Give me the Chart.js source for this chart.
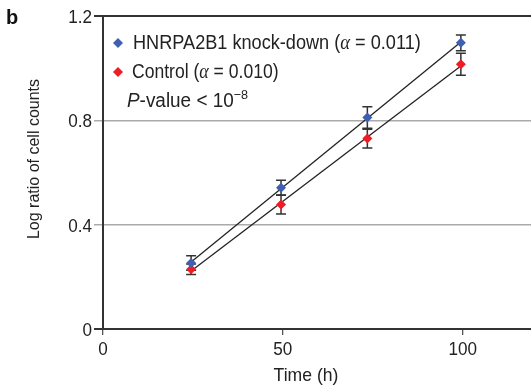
<!DOCTYPE html>
<html>
<head>
<meta charset="utf-8">
<script src="https://cdn.jsdelivr.net/npm/chart.js@4/dist/chart.umd.min.js"></script>
<style>
  html, body { margin: 0; padding: 0; background: #fff; }
  #wrap { width: 531px; height: 385px; }
</style>
</head>
<body>
<div id="wrap"><canvas id="growthChart" width="531" height="385"></canvas></div>
<script>
// Values
const timeHours = [24.5, 49.5, 73.5, 99.5];
const knockDown = [0.253, 0.542, 0.811, 1.097];
const knockDownErr = [0.028, 0.028, 0.041, 0.030];
const control = [0.229, 0.477, 0.730, 1.015];
const controlErr = [0.020, 0.036, 0.036, 0.042];
const xTicks = [0, 50, 100];
const yTicks = [0, 0.4, 0.8, 1.2];

const BLUE = '#3f5fb0';
const RED = '#ee1d25';
const FAMILY = '"Liberation Sans", Arial, sans-serif';
const SERIF = '"Liberation Serif", "DejaVu Serif", serif';
const SQUEEZE = 0.9; // the figure's lettering is a little narrower than Arial

// least squares line through a series, drawn between first and last time point
function fitLine(xs, ys) {
  const n = xs.length;
  const mx = xs.reduce((a, b) => a + b, 0) / n;
  const my = ys.reduce((a, b) => a + b, 0) / n;
  let sxy = 0, sxx = 0;
  xs.forEach((x, i) => { sxy += (x - mx) * (ys[i] - my); sxx += (x - mx) * (x - mx); });
  const slope = sxy / sxx;
  const icpt = my - slope * mx;
  const x0 = xs[0], x1 = xs[n - 1];
  return [{ x: x0, y: icpt + slope * x0 }, { x: x1, y: icpt + slope * x1 }];
}

function points(ys) {
  return timeHours.map((t, i) => ({ x: t, y: ys[i] }));
}

function fmtY(v) {
  return v === 0 ? '0' : v.toFixed(1);
}

// text pieces drawn in a row, narrowed horizontally by sx
function runText(ctx, x, y, parts, sx, align) {
  let total = 0;
  parts.forEach(p => { ctx.font = p.font; total += ctx.measureText(p.text).width * sx; });
  if (align === 'center') x -= total / 2;
  if (align === 'right') x -= total;
  parts.forEach(p => {
    ctx.font = p.font;
    ctx.save();
    ctx.translate(x, y + (p.dy || 0));
    ctx.scale(sx, 1);
    ctx.textAlign = 'left';
    ctx.fillText(p.text, 0, 0);
    ctx.restore();
    x += ctx.measureText(p.text).width * sx;
  });
}

const errorBars = {
  id: 'errorBars',
  beforeDatasetsDraw(chart) {
    const ctx = chart.ctx;
    const xs = chart.scales.x, ys = chart.scales.y;
    ctx.save();
    ctx.strokeStyle = '#333';
    ctx.lineWidth = 1.5;
    [[knockDown, knockDownErr], [control, controlErr]].forEach(([vals, errs]) => {
      vals.forEach((v, i) => {
        const px = xs.getPixelForValue(timeHours[i]);
        const top = ys.getPixelForValue(v + errs[i]);
        const bot = ys.getPixelForValue(v - errs[i]);
        ctx.beginPath();
        ctx.moveTo(px, top); ctx.lineTo(px, bot);
        ctx.moveTo(px - 5, top); ctx.lineTo(px + 5, top);
        ctx.moveTo(px - 5, bot); ctx.lineTo(px + 5, bot);
        ctx.stroke();
      });
    });
    ctx.restore();
  }
};

function diamond(ctx, x, y, r, color) {
  ctx.fillStyle = color;
  ctx.beginPath();
  ctx.moveTo(x, y - r); ctx.lineTo(x + r, y); ctx.lineTo(x, y + r); ctx.lineTo(x - r, y);
  ctx.closePath();
  ctx.fill();
}

const annotations = {
  id: 'annotations',
  afterDraw(chart) {
    const ctx = chart.ctx;
    const xs = chart.scales.x, ys = chart.scales.y;
    const tickFont = '19px ' + FAMILY;
    const reg = '19.5px ' + FAMILY;
    const greek = 'italic 20px ' + SERIF;
    ctx.save();
    ctx.fillStyle = '#222';
    ctx.textBaseline = 'alphabetic';

    // tick labels
    yTicks.forEach(v => {
      runText(ctx, 92, ys.getPixelForValue(v) + 7, [{ text: fmtY(v), font: tickFont }], SQUEEZE, 'right');
    });
    xTicks.forEach(v => {
      runText(ctx, xs.getPixelForValue(v), 355, [{ text: String(v), font: tickFont }], SQUEEZE, 'center');
    });

    // panel letter
    ctx.fillStyle = '#111';
    runText(ctx, 6, 24, [{ text: 'b', font: 'bold 21px ' + FAMILY }], 0.95, 'left');
    ctx.fillStyle = '#222';

    // legend
    diamond(ctx, 118, 43, 5, BLUE);
    ctx.fillStyle = '#222';
    runText(ctx, 133, 49, [
      { text: 'HNRPA2B1 knock-down (', font: reg },
      { text: 'α', font: greek },
      { text: ' = 0.011)', font: reg }
    ], 0.93);
    diamond(ctx, 118, 72, 5, RED);
    ctx.fillStyle = '#222';
    runText(ctx, 132, 78, [
      { text: 'Control (', font: reg },
      { text: 'α', font: greek },
      { text: ' = 0.010)', font: reg }
    ], SQUEEZE);
    runText(ctx, 127, 107, [
      { text: 'P', font: 'italic 19.5px ' + FAMILY },
      { text: '-value < 10', font: reg },
      { text: '\u22128', font: '13px ' + FAMILY, dy: -8 }
    ], 0.97);

    // axis titles
    runText(ctx, 306, 381, [{ text: 'Time (h)', font: '18.5px ' + FAMILY }], 0.95, 'center');
    ctx.save();
    ctx.translate(39, 159);
    ctx.rotate(-Math.PI / 2);
    ctx.font = '16px ' + FAMILY;
    ctx.textAlign = 'center';
    ctx.fillText('Log ratio of cell counts', 0, 0);
    ctx.restore();
    ctx.restore();
  }
};

const whiteBg = {
  id: 'whiteBg',
  beforeDraw(chart) {
    const ctx = chart.ctx;
    ctx.save();
    ctx.fillStyle = '#fff';
    ctx.fillRect(0, 0, chart.width, chart.height);
    ctx.restore();
  }
};

const ctx = document.getElementById('growthChart').getContext('2d');
new Chart(ctx, {
  type: 'scatter',
  data: {
    datasets: [
      {
        label: 'HNRPA2B1 knock-down',
        data: points(knockDown),
        pointStyle: 'rectRot',
        pointRadius: 5,
        backgroundColor: BLUE,
        borderWidth: 0
      },
      {
        label: 'Control',
        data: points(control),
        pointStyle: 'rectRot',
        pointRadius: 5,
        backgroundColor: RED,
        borderWidth: 0
      },
      {
        type: 'line',
        data: fitLine(timeHours, knockDown),
        borderColor: '#222',
        borderWidth: 1.3,
        pointRadius: 0
      },
      {
        type: 'line',
        data: fitLine(timeHours, control),
        borderColor: '#222',
        borderWidth: 1.3,
        pointRadius: 0
      }
    ]
  },
  options: {
    responsive: false,
    animation: false,
    layout: { autoPadding: false, padding: { top: 16, right: 0, left: 0, bottom: 0 } },
    plugins: { legend: { display: false }, tooltip: { enabled: false } },
    scales: {
      x: {
        type: 'linear',
        min: 0,
        max: 119,
        afterBuildTicks: s => { s.ticks = xTicks.map(v => ({ value: v })); },
        afterFit: s => { s.height = 56; },
        ticks: { display: false },
        grid: { drawOnChartArea: false, color: '#555', tickLength: 6, lineWidth: 1.3 },
        border: { color: '#333', width: 2 }
      },
      y: {
        min: 0,
        max: 1.2,
        afterBuildTicks: s => { s.ticks = yTicks.map(v => ({ value: v })); },
        afterFit: s => { s.width = 103; },
        ticks: { display: false },
        grid: {
          color: c => (c.tick && (c.tick.value === 0 || c.tick.value === 1.2) ? '#333' : '#aaa'),
          lineWidth: c => (c.tick && (c.tick.value === 0 || c.tick.value === 1.2) ? 2 : 1.5),
          tickLength: 9
        },
        border: { color: '#333', width: 2 }
      }
    }
  },
  plugins: [whiteBg, errorBars, annotations]
});
</script>
</body>
</html>
